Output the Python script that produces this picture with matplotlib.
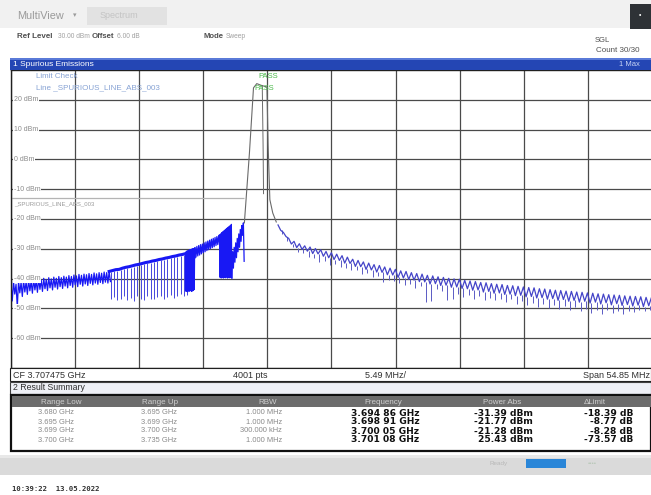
"""
Spurious emission sweep screenshot (R&S style) rebuilt with matplotlib.
"""

import matplotlib

matplotlib.use("Agg")
import matplotlib.pyplot as plt
import numpy as np
from matplotlib.patches import Rectangle

W, H = 651, 495

# sweep settings
CENTER_MHZ = 3707.475
SPAN_MHZ = 54.85
REF_LEVEL = 30
BOTTOM_LEVEL = -70
y_grid = [20, 10, 0, -10, -20, -30, -40, -50, -60]
y_grid_labels = ["20 dBm", "10 dBm", "0 dBm", "-10 dBm", "-20 dBm",
                 "-30 dBm", "-40 dBm", "-50 dBm", "-60 dBm"]
limit_dbm = -13
limit_range = (3680.05, 3700.0)

# lower side, first range: noisy band (tops / dips)
seg_a_range = (3680.05, 3688.45)
seg_a_top = [-41.6, -41.0, -41.9, -40.8, -41.3, -40.6, -41.1, -40.4, -40.9, -40.2,
             -40.7, -40.0, -40.5, -39.9, -40.3, -39.7, -40.1, -39.5, -39.9, -39.3,
             -39.7, -39.2, -39.5, -39.0, -39.3, -38.8, -39.1, -38.6, -38.9, -38.5,
             -38.7, -38.3, -38.6, -38.1, -38.4, -38.0, -38.2, -37.8, -38.0, -37.6]
seg_a_dip = [-47.5, -45.2, -49.5, -44.8, -46.0, -44.5, -45.3, -44.1, -44.9, -43.8,
             -44.6, -43.6, -44.3, -43.4, -44.0, -43.1, -43.8, -42.9, -43.5, -42.7,
             -43.3, -42.5, -43.1, -42.3, -42.9, -42.1, -42.7, -41.9, -42.5, -41.8,
             -42.3, -41.6, -42.1, -41.5, -41.9, -41.3, -41.7, -41.2, -41.5, -41.0]

# lower side, comb of deep dips
seg_b_range = (3688.45, 3695.0)
seg_b_top = [-37.6, -37.3, -37.0, -36.9, -36.5, -36.2, -36.0, -35.7, -35.4, -35.2,
             -34.9, -34.6, -34.4, -34.1, -33.9, -33.6, -33.4, -33.1, -32.9, -32.6,
             -32.4, -32.1, -31.9, -31.6]
seg_b_dip = [-47.0, -46.2, -47.3, -46.8, -45.9, -47.1, -46.5, -47.4, -46.0, -46.9,
             -47.2, -45.8, -46.7, -47.0, -46.3, -45.9, -46.8, -46.1, -45.6, -46.4,
             -45.8, -45.2, -45.9, -45.4]

seg_b2_range = (3695.0, 3695.8)
seg_b2 = [-31.2, -44.3, -30.8, -44.0, -30.9, -44.4, -30.5, -43.8, -30.6, -44.2,
          -30.3, -44.1, -30.4, -43.9, -30.1, -44.3, -30.2, -43.7, -29.9, -44.0,
          -30.0, -43.6, -29.7, -33.0]

seg_c_range = (3695.8, 3697.9)
seg_c = [-29.6, -32.8, -29.2, -32.4, -28.9, -32.1, -28.6, -31.7, -28.4, -31.3,
         -28.0, -31.0, -27.7, -30.6, -27.4, -30.3, -27.1, -29.9, -26.8, -29.6,
         -26.5, -29.3, -26.2, -28.9, -25.9, -28.6, -25.5, -28.3]

seg_c2_range = (3697.9, 3698.95)
seg_c2 = [-25.3, -39.6, -25.0, -39.8, -24.6, -39.5, -24.3, -39.8, -24.0, -39.6,
          -23.7, -39.7, -23.4, -39.5, -23.1, -39.8, -22.8, -39.6, -22.5, -39.7,
          -22.2, -39.5, -21.8, -39.8]

seg_d_range = (3698.95, 3700.0)
seg_d = [-39.8, -31.0, -36.5, -29.5, -34.5, -28.0, -33.0, -26.5, -31.0, -25.0,
         -29.5, -23.5, -27.5, -22.2, -25.5, -21.3, -34.2]

# carrier (grey trace)
carrier_mhz = [3700.02, 3700.45, 3700.80, 3701.08, 3701.50, 3701.95, 3702.05,
               3702.20, 3702.45, 3702.75]
carrier_dbm = [-21.3, 2.0, 24.0, 25.43, 24.8, 24.3, 5.0, -13.5, -18.0, -21.0]
carrier_inner_mhz = [3701.55, 3701.62, 3701.66]
carrier_inner_dbm = [24.8, 5.0, -11.5]

# upper side: tops, shallow dips and deep dips
seg_e_range = (3702.9, 3734.85)
right_top = [-22.0, -24.5, -26.5, -27.5, -28.3, -29.0, -29.4, -29.9, -30.3, -30.9,
             -31.3, -31.8, -32.3, -32.8, -33.5, -33.9, -34.4, -34.8, -35.3, -35.6,
             -36.1, -36.5, -36.9, -37.4, -37.6, -38.0, -38.3, -38.5, -38.9, -39.1,
             -39.4, -39.6, -39.9, -40.1, -40.2, -40.6, -40.8, -41.0, -41.3, -41.4,
             -41.7, -41.9, -42.0, -42.3, -42.4, -42.6, -42.8, -43.0, -43.1, -43.4,
             -43.5, -43.7, -43.9, -44.0, -44.2, -44.3, -44.5, -44.6, -44.8, -44.9,
             -45.1, -45.2, -45.4, -45.5, -45.6, -45.8, -45.9, -46.0, -46.1, -46.3,
             -46.4]
right_minor = [-23.8, -25.9, -28.4, -29.6, -30.2, -30.8, -31.6, -31.7, -32.5, -33.0,
               -33.6, -33.9, -34.8, -34.9, -35.9, -36.0, -36.9, -37.1, -37.8, -37.9,
               -38.7, -38.8, -39.6, -39.8, -40.3, -40.5, -41.0, -41.1, -41.8, -41.7,
               -42.3, -42.2, -42.9, -42.8, -43.3, -43.4, -43.9, -43.8, -44.5, -44.3,
               -44.9, -44.8, -45.3, -45.2, -45.7, -45.6, -46.1, -46.0, -46.5, -46.4,
               -46.9, -46.7, -47.3, -47.0, -47.6, -47.3, -47.9, -47.6, -48.2, -47.9,
               -48.5, -48.1, -48.8, -48.4, -49.0, -48.7, -49.2, -48.9, -49.4, -49.1,
               -49.5]
right_dip = [-25.0, -27.5, -29.5, -31.0, -31.5, -32.8, -33.0, -34.5, -34.0, -35.5,
             -35.2, -36.0, -36.4, -37.2, -37.0, -38.4, -38.2, -39.3, -39.0, -41.2,
             -40.5, -40.8, -41.5, -42.0, -41.8, -43.2, -42.6, -48.0, -47.6, -43.5,
             -44.2, -47.2, -46.8, -45.0, -46.3, -45.5, -46.8, -46.0, -47.1, -46.4,
             -47.3, -46.7, -47.8, -47.0, -48.5, -47.6, -49.0, -48.2, -49.4, -48.5,
             -49.8, -48.9, -50.2, -49.3, -50.6, -49.6, -51.0, -50.1, -51.5, -50.4,
             -52.0, -50.6, -51.4, -50.8, -51.8, -50.9, -51.2, -50.5, -51.0, -50.7,
             -51.3]

# result summary table
col_headers = ["Range Low", "Range Up", "RBW", "Frequency", "Power Abs", "\u0394Limit"]
range_low = ["3.680 GHz", "3.695 GHz", "3.699 GHz", "3.700 GHz"]
range_up = ["3.695 GHz", "3.699 GHz", "3.700 GHz", "3.735 GHz"]
rbw = ["1.000 MHz", "1.000 MHz", "300.000 kHz", "1.000 MHz"]
peak_freq = ["3.694 86 GHz", "3.698 91 GHz", "3.700 05 GHz", "3.701 08 GHz"]
power_abs = ["-31.39 dBm", "-21.77 dBm", "-21.28 dBm", "25.43 dBm"]
delta_limit = ["-18.39 dB", "-8.77 dB", "-8.28 dB", "-73.57 dB"]

UI_FONT = "Liberation Sans"
BLUE_TRACE = "#1818f4"
DIP_BLUE = "#4646dc"
RIGHT_TRACE = "#4444c8"
GRID = "#4a4a4a"


def fx(x):
    return x / W


def fy(y):
    return 1 - y / H


def put(fig, x, y, s, **kw):
    kw.setdefault("va", "center")
    kw.setdefault("family", UI_FONT)
    kw.setdefault("fontsize", 5.5)
    kw.setdefault("color", "#303030")
    fig.text(fx(x), fy(y), s, **kw)


def box(fig, x0, y0, x1, y1, **kw):
    fig.patches.append(
        Rectangle((fx(x0), fy(y1)), (x1 - x0) / W, (y1 - y0) / H,
                  transform=fig.transFigure, **kw)
    )


def interleave(lo, hi, tops, dips):
    freqs = np.linspace(lo, hi, len(tops))
    half = (freqs[1] - freqs[0]) / 2
    xs = np.ravel(np.column_stack([freqs, freqs + half]))
    ys = np.ravel(np.column_stack([tops, dips]))
    return xs, ys


def main() -> None:
    fig = plt.figure(figsize=(W / 100, H / 100), dpi=100)
    fig.patch.set_facecolor("white")

    # top bar
    box(fig, 0, 0, W, 28, facecolor="#f1f1f1", edgecolor="none")
    box(fig, 87, 7, 167, 25, facecolor="#e2e2e2", edgecolor="none")
    put(fig, 17, 16, "MultiView", color="#9a9a9a", fontsize=7.8)
    put(fig, 73, 15, "\u25be", color="#9a9a9a", fontsize=5, family="DejaVu Sans")
    put(fig, 100, 16, "Spectrum", color="#c4c4c4", fontsize=6.5)
    box(fig, 630, 4, W, 29, facecolor="#2e3236", edgecolor="none")
    put(fig, 640, 16, "\u2022", color="white", fontsize=5, ha="center")

    put(fig, 17, 36, "Ref Level", fontweight="bold", color="#505050", fontsize=5.8)
    put(fig, 58, 36, "30.00 dBm", color="#a0a0a0", fontsize=4.8)
    put(fig, 92, 36, "Offset", fontweight="bold", color="#505050", fontsize=5.6)
    put(fig, 117, 36, "6.00 dB", color="#a0a0a0", fontsize=4.8)
    put(fig, 204, 36, "Mode", fontweight="bold", color="#505050", fontsize=5.6)
    put(fig, 226, 36, "Sweep", color="#a0a0a0", fontsize=4.8)
    put(fig, 595, 41, "SGL", color="#505050", fontsize=5.5)
    put(fig, 596, 51, "Count 30/30", color="#505050", fontsize=5.8)

    # window title bar
    box(fig, 10, 58, W, 70, facecolor="#2446b4", edgecolor="none")
    box(fig, 10, 58, W, 60, facecolor="#5a7ad8", edgecolor="none")
    put(fig, 13, 64.5, "1 Spurious Emissions", color="white", fontsize=6)
    put(fig, 619, 64.5, "1 Max", color="#c8d4f4", fontsize=5.5)

    # spectrum window
    ax = fig.add_axes([fx(11), fy(368), 641 / W, 298 / H])
    f_start = CENTER_MHZ - SPAN_MHZ / 2
    f_stop = CENTER_MHZ + SPAN_MHZ / 2
    ax.set_xlim(f_start, f_stop)
    ax.set_ylim(BOTTOM_LEVEL, REF_LEVEL)
    ax.set_xticks(np.linspace(f_start, f_stop, 11))
    ax.set_yticks(y_grid)
    ax.tick_params(length=0, labelbottom=False, labelleft=False)
    ax.grid(True, color=GRID, linewidth=0.9)
    ax.set_axisbelow(True)
    for sp in ax.spines.values():
        sp.set_color("#202020")
        sp.set_linewidth(1.0)

    for val, lab in zip(y_grid, y_grid_labels):
        ax.text(f_start + 0.25, val, lab, fontsize=5, color="#8a8a8a",
                va="center", ha="left", family=UI_FONT,
                bbox=dict(facecolor="white", edgecolor="none", pad=0.4))

    ax.hlines(limit_dbm, *limit_range, color="#b4b4b4", linewidth=0.9)
    ax.text(f_start + 0.3, limit_dbm - 1.9, "_SPURIOUS_LINE_ABS_003",
            fontsize=4.3, color="#9a9a9a", va="center", family=UI_FONT)

    # lower side trace
    xa, ya = interleave(*seg_a_range, seg_a_top, seg_a_dip)
    ax.plot(xa, ya, color=BLUE_TRACE, linewidth=0.9)

    fb = np.linspace(*seg_b_range, len(seg_b_top))
    fb_dip = fb + (fb[1] - fb[0]) / 2
    ax.vlines(fb_dip, seg_b_dip, np.array(seg_b_top) - 0.3, color=DIP_BLUE,
              linewidth=0.7)
    ax.plot(fb, seg_b_top, color=BLUE_TRACE, linewidth=2.2)

    for (lo, hi), vals in [(seg_b2_range, seg_b2), (seg_c_range, seg_c),
                           (seg_c2_range, seg_c2), (seg_d_range, seg_d)]:
        freqs = np.linspace(lo, hi, len(vals))
        ax.plot(freqs, vals, color=BLUE_TRACE, linewidth=0.9)

    # carrier
    ax.plot(carrier_mhz, carrier_dbm, color="#6a6a6a", linewidth=0.8)
    ax.plot(carrier_inner_mhz, carrier_inner_dbm, color="#6a6a6a", linewidth=0.7)

    # upper side trace: jagged band plus deep dips
    fe = np.linspace(*seg_e_range, len(right_top))
    fe_dip = fe + (fe[1] - fe[0]) * 0.72
    ax.vlines(fe_dip, right_dip, right_minor, color="#5a5ac4", linewidth=0.7)
    xe, ye = interleave(*seg_e_range, right_top, right_minor)
    ax.plot(xe, ye, color=RIGHT_TRACE, linewidth=0.9)

    put(fig, 36, 77, "Limit Check", color="#86a2d4", fontsize=5.8)
    put(fig, 36, 88, "Line _SPURIOUS_LINE_ABS_003", color="#86a2d4", fontsize=5.8)
    put(fig, 258, 77, "PASS", color="#48b848", fontsize=5.5)
    put(fig, 254, 88, "PASS", color="#48b848", fontsize=5.5)

    # sweep info line
    box(fig, 10, 368, W, 381, facecolor="white", edgecolor="#202020", linewidth=0.8)
    put(fig, 13, 375, "CF 3.707475 GHz", fontsize=6.5)
    put(fig, 233, 375, "4001 pts", fontsize=6.5)
    put(fig, 365, 375, "5.49 MHz/", fontsize=6.5)
    put(fig, 650, 375, "Span 54.85 MHz", ha="right", fontsize=6.5)

    # result summary
    box(fig, 10, 382, W, 394, facecolor="#eef0f6", edgecolor="#404040", linewidth=0.8)
    put(fig, 13, 388, "2 Result Summary", fontsize=6.3)
    box(fig, 11, 395, W, 451, facecolor="white", edgecolor="#101010", linewidth=1.6)
    box(fig, 12, 396, W, 407, facecolor="#6c6c6c", edgecolor="none")

    header_x = [61, 160, 268, 383, 502, 595]
    for hx, h in zip(header_x, col_headers):
        put(fig, hx, 402, h, ha="center", color="#cfcfcf", fontsize=5.8)

    row_y = [413, 422, 431, 440]
    for i, ry in enumerate(row_y):
        put(fig, 56, ry, range_low[i], ha="center", color="#8a8a8a", fontsize=5.4)
        put(fig, 159, ry, range_up[i], ha="center", color="#8a8a8a", fontsize=5.4)
        put(fig, 282, ry, rbw[i], ha="right", color="#8a8a8a", fontsize=5.4)
        put(fig, 385, ry, peak_freq[i], ha="center", color="#101010",
            fontsize=6.6, fontweight="bold", family="DejaVu Sans")
        put(fig, 533, ry, power_abs[i], ha="right", color="#101010",
            fontsize=6.6, fontweight="bold", family="DejaVu Sans")
        put(fig, 633, ry, delta_limit[i], ha="right", color="#101010",
            fontsize=6.6, fontweight="bold", family="DejaVu Sans")

    # status bar
    box(fig, 0, 455, W, 475, facecolor="#dadada", edgecolor="none")
    box(fig, 0, 455, W, 458, facecolor="#e8e8e8", edgecolor="none")
    box(fig, 526, 459, 566, 468, facecolor="#2a86d8", edgecolor="none")
    put(fig, 490, 464, "Ready", color="#b8b8b8", fontsize=4.5)
    put(fig, 588, 464, "\u2022\u2022\u2022\u2022", color="#b8c8b8", fontsize=4.5)

    fig.text(fx(12), fy(489), "10:39:22  13.05.2022", family="DejaVu Sans Mono",
             fontweight="bold", fontsize=5.2, color="#303030", va="center")

    fig.savefig("out.png", dpi=100, facecolor="white")
    plt.close(fig)


if __name__ == "__main__":
    main()
